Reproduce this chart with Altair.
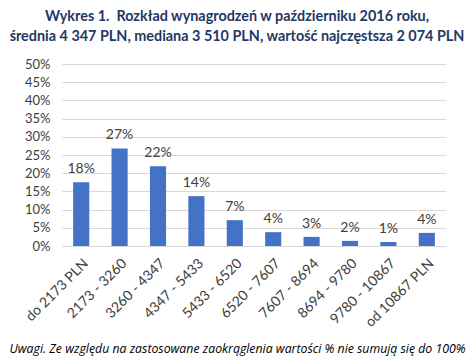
import altair as alt
import pandas as pd

categories = ["do 2173 PLN", "2173 - 3260", "3260 - 4347", "4347 - 5433", "5433 - 6520",
              "6520 - 7607", "7607 - 8694", "8694 - 9780", "9780 - 10867", "od 10867 PLN"]
values = [17.5, 26.8, 21.9, 13.7, 7.1, 3.8, 2.5, 1.4, 1.1, 3.6]
labels = ["18%", "27%", "22%", "14%", "7%", "4%", "3%", "2%", "1%", "4%"]
y_ticks = [0, 5, 10, 15, 20, 25, 30, 35, 40, 45, 50]

title_lines = ["Wykres 1.\u00a0 Rozkład wynagrodzeń w październiku 2016 roku,",
               "średnia 4 347 PLN, mediana 3 510 PLN, wartość najczęstsza 2 074 PLN"]
footnote = "Uwagi. Ze względu na zastosowane zaokrąglenia wartości % nie sumują się do 100%"

df = pd.DataFrame({"cat": categories, "val": values, "lab": labels})

FONT = "Lato"
TXT = "#404040"

base = alt.Chart(df).encode(
    x=alt.X("cat:N", sort=categories,
            scale=alt.Scale(paddingInner=0.58, paddingOuter=0.29),
            axis=alt.Axis(title=footnote, labelAngle=-45, labelAlign="right",
                          labelBaseline="middle", labelFontSize=14, labelColor=TXT,
                          labelFont=FONT, labelPadding=15, labelOffset=5, ticks=False,
                          domainColor="#d9d9d9", labelLimit=200,
                          titleFont="Open Sans", titleFontSize=12.3, titleFontStyle="italic",
                          titleFontWeight="normal", titleColor="#000000",
                          titleAnchor="middle", titleAlign="center",
                          titleX=175, titleY=106, titleBaseline="alphabetic")),
    y=alt.Y("val:Q", scale=alt.Scale(domain=[0, 50]),
            axis=alt.Axis(title=None, values=y_ticks,
                          labelExpr="datum.value + '%'", labelFontSize=13,
                          labelColor=TXT, labelFont=FONT, labelPadding=12,
                          ticks=False, domain=False, gridColor="#d9d9d9")),
)

bars = base.mark_bar(color="#4472C4")
text = base.mark_text(baseline="bottom", dy=-6, fontSize=14, font=FONT, color=TXT).encode(
    text="lab:N")

chart = alt.layer(bars, text).properties(
    width=384, height=182,
    title=alt.TitleParams(text=title_lines, font=FONT, fontSize=14.4, fontWeight="bold",
                          color="#1F3864", anchor="middle", dx=-17, lineHeight=20,
                          offset=14),
    autosize=alt.AutoSizeParams(type="none"),
    padding={"left": 54, "top": 56, "right": 21, "bottom": 112},
).configure_view(stroke=None)

chart.save("out.html", embed_options={"renderer": "svg", "actions": False})
